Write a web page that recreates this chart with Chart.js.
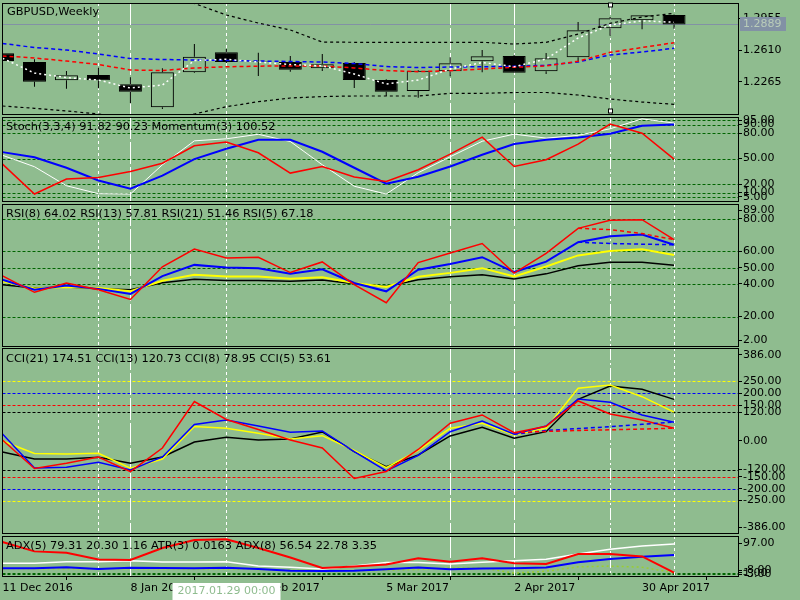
<!DOCTYPE html>
<html>
<head>
<meta charset="utf-8">
<title>GBPUSD Weekly</title>
<script src="https://cdn.jsdelivr.net/npm/chart.js@4.4.1/dist/chart.umd.min.js"></script>
<style>
  html, body { margin: 0; padding: 0; background: #8FBC8F; }
  #wrap { position: relative; width: 800px; height: 600px; overflow: hidden; background: #8FBC8F; }
  #wrap canvas { position: absolute; left: 0; top: 0; }
</style>
</head>
<body>
<div id="wrap">
  <canvas id="cMain" width="800" height="600"></canvas>
  <canvas id="cStoch" width="800" height="600"></canvas>
  <canvas id="cRsi" width="800" height="600"></canvas>
  <canvas id="cCci" width="800" height="600"></canvas>
  <canvas id="cAdx" width="800" height="600"></canvas>
</div>
<script>
// ================= DATA =================
const weeks = ['11 Dec 2016','18 Dec 2016','25 Dec 2016','1 Jan 2017','8 Jan 2017','15 Jan 2017','22 Jan 2017',
  '29 Jan 2017','5 Feb 2017','12 Feb 2017','19 Feb 2017','26 Feb 2017','5 Mar 2017','12 Mar 2017','19 Mar 2017',
  '26 Mar 2017','2 Apr 2017','9 Apr 2017','16 Apr 2017','23 Apr 2017','30 Apr 2017','7 May 2017'];
const dateTickEvery = 4;
const crosshairIndex = 7;
const crosshairLabel = '2017.01.29 00:00';
const symbolTitle = 'GBPUSD,Weekly';

const open  = [1.2574,1.2479,1.2280,1.2338,1.2236,1.1986,1.2367,1.2585,1.2490,1.2479,1.2411,1.2468,1.2283,1.2163,1.2378,1.2487,1.2545,1.2378,1.2530,1.2846,1.2934,1.2991];
const high  = [1.2605,1.2509,1.2381,1.2417,1.2313,1.2411,1.2675,1.2620,1.2581,1.2545,1.2566,1.2479,1.2291,1.2392,1.2530,1.2610,1.2556,1.2577,1.2915,1.2970,1.2991,1.2997];
const low   = [1.2462,1.2210,1.2188,1.2193,1.2029,1.1967,1.2360,1.2468,1.2327,1.2374,1.2381,1.2196,1.2109,1.2090,1.2324,1.2367,1.2360,1.2349,1.2483,1.2766,1.2835,1.2842];
const close = [1.2490,1.2265,1.2334,1.2280,1.2156,1.2367,1.2537,1.2479,1.2484,1.2395,1.2454,1.2283,1.2156,1.2385,1.2465,1.2541,1.2363,1.2520,1.2825,1.2955,1.2988,1.2889];

const maBlue  = [1.2681,1.2637,1.2610,1.2566,1.2517,1.2507,1.2501,1.2496,1.2490,1.2485,1.2479,1.2463,1.2430,1.2419,1.2425,1.2428,1.2432,1.2443,1.2480,1.2556,1.2588,1.2629];
const maRed   = [1.2545,1.2523,1.2490,1.2452,1.2392,1.2387,1.2414,1.2427,1.2434,1.2437,1.2437,1.2414,1.2387,1.2374,1.2385,1.2403,1.2422,1.2437,1.2487,1.2585,1.2637,1.2690];
const maWhite = [1.2520,1.2359,1.2310,1.2283,1.2196,1.2229,1.2496,1.2509,1.2479,1.2452,1.2437,1.2349,1.2240,1.2283,1.2403,1.2474,1.2428,1.2512,1.2741,1.2882,1.2928,1.2912];
const bandUpper = [1.3318,1.3351,1.3373,1.3318,1.3264,1.3187,1.3117,1.2991,1.2904,1.2828,1.2697,1.2694,1.2694,1.2694,1.2694,1.2694,1.2675,1.2694,1.2784,1.2901,1.2969,1.3010];
const bandLower = [1.2000,1.1975,1.1946,1.1913,1.1869,1.1847,1.1913,1.1992,1.2047,1.2087,1.2103,1.2109,1.2109,1.2109,1.2138,1.2138,1.2147,1.2147,1.2120,1.2076,1.2043,1.2018];
const priceTicks = [1.2955, 1.2610, 1.2265];

const stochMain   = [53.9,40.4,18.0,8.6,8.2,42.7,70.9,73.3,78.6,70.1,42.7,17.4,8.2,33.3,52.1,70.4,78.8,74.1,77.4,85.1,96.8,91.82];
const stochSignal = [57.6,51.5,39.2,24.2,14.5,29.8,49.4,61.5,72.1,72.1,58.0,39.2,20.4,28.6,40.7,54.5,67.1,72.1,74.8,79.2,88.6,90.23];
const momentumPlot = [43.5,8.2,25.9,27.8,34.8,44.5,65.1,69.4,56.8,32.9,40.7,28.2,23.1,36.8,55.3,75.3,40.7,48.6,67.1,90.6,79.8,49.4];
const momentumLast = 100.52;
const stochTicks = [95, 90, 80, 50, 20, 10, 5];

const rsi5  = [45.0,34.9,40.6,36.5,30.5,50.5,61.4,55.9,56.4,47.0,53.5,39.6,28.5,53.1,59.0,64.8,46.7,58.8,74.1,79.0,79.4,67.18];
const rsi8  = [42.6,36.5,39.0,37.0,33.9,44.8,51.7,50.1,49.7,46.2,49.0,40.6,35.5,48.7,52.3,56.4,47.3,53.7,65.6,69.3,70.3,64.02];
const rsi13 = [41.6,37.2,38.2,37.6,35.5,42.0,45.6,44.6,44.6,43.2,44.1,40.6,38.2,44.4,46.8,49.7,44.6,50.7,57.5,60.2,61.2,57.81];
const rsi21 = [39.6,37.6,38.2,37.0,36.5,40.8,42.9,42.2,42.2,41.6,42.4,40.2,38.5,42.6,44.4,45.6,43.0,46.2,51.1,53.3,53.3,51.46];
const rsi5Avg = [null,null,null,null,null,null,null,null,null,null,null,null,null,null,null,null,null,null,74.1,73.3,70.9,67.18];
const rsi8Avg = [null,null,null,null,null,null,null,null,null,null,null,null,null,null,null,null,null,null,65.6,64.8,64.4,64.02];
const rsiLevels = [80, 60, 50, 40, 20];
const rsiTicks = [89, 80, 60, 50, 40, 20, 2];

const cci5  = [4.2,-115.4,-93.5,-67.1,-128.8,-29.4,165.7,90.2,48.2,4.2,-29.4,-157.3,-127.9,-35.7,74.2,109.1,34.8,61.7,167.8,113.3,88.1,53.61];
const cci8  = [29.4,-113.3,-110.3,-89.3,-121.6,-67.1,69.2,88.1,62.9,36.5,41.9,-44.9,-125.8,-60.8,39.0,83.9,28.1,62.9,176.2,162.3,109.1,78.95];
const cci13 = [0,-52.4,-54.5,-51.6,-114.5,-75.5,60.8,53.3,32.3,8.4,22.2,-39.8,-112.0,-39.8,53.3,74.2,25.2,53.3,221.1,234.9,185.8,120.73];
const cci21 = [-46.1,-75.5,-75.5,-68.4,-93.5,-67.1,-4.2,15.5,4.2,8.4,37.8,-44.0,-107.8,-58.7,21.0,57.5,11.3,39.0,174.9,230.7,216.9,174.51];
const cci5Avg = [null,null,null,null,null,null,null,null,null,null,null,null,null,null,null,null,34.8,40,44,47,50,53.61];
const cci8Avg = [null,null,null,null,null,null,null,null,null,null,null,null,null,null,null,null,28.1,44,52,60,70,78.95];
const cciLevels = [250, 200, 150, 120, -120, -150, -200, -250];
const cciTicks = [386, 250, 200, 150, 120, 0, -120, -150, -200, -250, -386];

const adx5Main = [26.7,26.7,31.1,31.1,33.8,30.2,30.2,31.1,19.3,15.8,11.2,19.3,28.9,28.9,24.8,29.4,33.8,37.6,52.0,64.9,73.8,79.31];
const adxRed   = [84.7,59.1,55.6,37.1,35.7,68.4,90.2,92.1,68.4,42.5,13.9,18.0,23.4,40.3,31.1,40.3,26.7,24.8,52.0,52.0,45.2,1.16];
const adxBlue  = [13.1,13.1,15.8,11.2,14.7,13.9,13.1,14.7,11.2,6.5,5.7,6.5,10.4,15.3,10.4,12.5,13.1,15.3,29.4,38.4,44.7,49.3];
const atrPlot  = [12,12,12,12,12,12,11,11,10,8,6,6,8,10,14,14,0,5,17,19,16,1];
const adxLevels = [1, -3];
const adxTicks = [97, 1, -3, -8];
const adxTitle = 'ADX(5) 79.31 20.30 1.16 ATR(3) 0.0163 ADX(8) 56.54 22.78 3.35';

const vLineIdx = [3, 4, 7, 14, 16, 19, 21];

// ================= STYLE / LAYOUT =================
const FONT = 'DejaVu Sans';
Chart.defaults.font.family = FONT;
Chart.defaults.font.size = 11;
Chart.defaults.color = '#000';
const BG = '#8FBC8F';
const GREY = '#8291a5';
const TITLE_FONT = '11.35px "' + FONT + '"';
const X_MIN = 0, X_MAX = 23, PLOT_LEFT = 2.5, AXIS_W = 62, CANVAS_H = 600, X_AXIS_H = 24;
const V_DASH = [[3,3],[22,3],[3,3],[22,3],[22,3],[12,3,2,3],[3,3]];
const last = a => a[a.length - 1];
const pts = arr => arr.map((v, i) => ({ x: i, y: v }));

function line(data, color, width, dash, order) {
  return { type: 'line', data: pts(data), borderColor: color, borderWidth: width, borderDash: dash || [],
           pointRadius: 0, tension: 0, fill: false, spanGaps: false, order: order || 0 };
}

function makeDecor(p) {
  return {
    id: 'decor_' + p.id,
    beforeDatasetsDraw(chart) {
      const { ctx, chartArea: a, scales } = chart;
      const x = scales.x, y = scales.y;
      ctx.save();
      ctx.beginPath(); ctx.rect(a.left, a.top, a.right - a.left, a.bottom - a.top); ctx.clip();
      ctx.lineWidth = 1;
      (p.levels || []).forEach((v, i) => {
        const py = Math.round(y.getPixelForValue(v)) + 0.5;
        ctx.strokeStyle = p.levelColors[i % p.levelColors.length];
        ctx.setLineDash([3, 2]);
        ctx.beginPath(); ctx.moveTo(a.left, py); ctx.lineTo(a.right, py); ctx.stroke();
      });
      if (p.priceLine) {
        const py = Math.round(y.getPixelForValue(last(close))) + 0.5;
        ctx.strokeStyle = GREY; ctx.setLineDash([]);
        ctx.beginPath(); ctx.moveTo(a.left, py); ctx.lineTo(a.right, py); ctx.stroke();
      }
      vLineIdx.forEach((idx, k) => {
        const px = Math.floor(x.getPixelForValue(idx)) + 0.5;
        ctx.strokeStyle = '#ffffff'; ctx.setLineDash(V_DASH[k]);
        ctx.beginPath(); ctx.moveTo(px, a.top); ctx.lineTo(px, a.bottom); ctx.stroke();
      });
      ctx.restore();
    },
    afterDraw(chart) {
      const { ctx, chartArea: a } = chart;
      ctx.save();
      ctx.strokeStyle = '#000'; ctx.lineWidth = 1; ctx.setLineDash([]);
      const L = Math.floor(a.left) + 0.5, R = Math.round(a.right) + 0.5;
      ctx.strokeRect(L, a.top + 0.5, R - L, a.bottom - a.top);
      ctx.font = TITLE_FONT; ctx.fillStyle = '#000';
      ctx.textBaseline = 'middle'; ctx.textAlign = 'left';
      ctx.fillText(p.title, p.titleX, p.titleY);
      ctx.font = '11px "' + FONT + '"';
      if (p.extra) p.extra(chart);
      ctx.restore();
    }
  };
}

function buildPane(p) {
  const isBottom = !!p.xAxis;
  const h = p.bottom - p.top;
  const ppu = h / (p.max - p.min);
  const inset = 6 / ppu;
  const tickPos = p.ticks.map((v, i) => {
    if (p.edge && i === 0) return v - inset;
    if (p.edge && i === p.ticks.length - 1) return v + inset;
    return v;
  });
  return new Chart(document.getElementById(p.id), {
    type: 'bar',
    data: { datasets: p.datasets },
    options: {
      responsive: false, animation: false, devicePixelRatio: 1, events: [],
      layout: { padding: { left: PLOT_LEFT, right: 0, top: p.top,
                           bottom: CANVAS_H - p.bottom - (isBottom ? X_AXIS_H : 0) } },
      plugins: { legend: { display: false }, tooltip: { enabled: false }, title: { display: false } },
      scales: {
        x: {
          type: 'linear', min: X_MIN, max: X_MAX, offset: false, bounds: 'data', display: isBottom,
          afterFit(s) { s.height = isBottom ? X_AXIS_H : 0; s.paddingLeft = 0; s.paddingRight = 0; },
          afterBuildTicks(s) {
            s.ticks = weeks.map((w, i) => i).filter(i => i % dateTickEvery === 0).map(i => ({ value: i }));
          },
          ticks: { autoSkip: false, maxRotation: 0, minRotation: 0, align: 'start', padding: 2, color: '#000',
                   font: { size: 11 }, callback: (v) => weeks[v] },
          grid: { drawOnChartArea: false, drawTicks: true, tickLength: 4, color: '#000' },
          border: { display: false }
        },
        y: {
          position: 'right', min: p.min, max: p.max, bounds: 'data',
          afterFit(s) { s.width = AXIS_W; s.paddingTop = 0; s.paddingBottom = 0; },
          afterBuildTicks(s) { s.ticks = tickPos.map(v => ({ value: v })); },
          ticks: { autoSkip: false, padding: 1, color: '#000', font: { size: 11 },
                   callback: (v, i) => p.ticks[i].toFixed(p.dec) },
          grid: { drawOnChartArea: false, drawTicks: true, tickLength: 4, color: '#000' },
          border: { display: false }
        }
      }
    },
    plugins: [makeDecor(p)]
  });
}

// ---- candle datasets built from OHLC ----
const bodyData = open.map((o, i) => ({ x: i, y: [o, close[i]] }));
const wickData = [];
open.forEach((o, i) => {
  const top = Math.max(o, close[i]), bot = Math.min(o, close[i]);
  wickData.push({ x: i, y: [top, high[i]] });
  wickData.push({ x: i, y: [low[i], bot] });
});

const mainDatasets = [
  line(maWhite, '#ffffff', 1.5, [2, 3], 0),
  line(maRed, '#ff0000', 1.5, [4, 3], 1),
  line(maBlue, '#0000ff', 1.5, [4, 3], 2),
  { type: 'bar', data: bodyData, order: 3, grouped: false, barThickness: 23, inflateAmount: 0,
    borderSkipped: false, borderWidth: 1, borderColor: '#000',
    backgroundColor: (c) => (close[c.dataIndex] < open[c.dataIndex] ? '#000000' : 'rgba(0,0,0,0)') },
  { type: 'bar', data: wickData, order: 4, grouped: false, barThickness: 1, inflateAmount: 0,
    borderWidth: 0, backgroundColor: '#000000' },
  line(bandUpper, '#000000', 1.2, [3, 3], 5),
  line(bandLower, '#000000', 1.2, [3, 3], 6)
];

const panes = [
  { id: 'cMain', top: 3, bottom: 114, min: 1.1913, max: 1.3122, dec: 4, ticks: priceTicks, edge: false,
    levels: [], title: symbolTitle, titleX: 7, titleY: 12, priceLine: true, datasets: mainDatasets,
    extra(chart) {
      const { ctx, scales: { x, y }, chartArea: a } = chart;
      const yc = Math.round(y.getPixelForValue(last(close)));
      ctx.fillStyle = GREY; ctx.fillRect(740, yc - 7, 46, 14);
      ctx.fillStyle = '#b9ccb9'; ctx.textBaseline = 'middle'; ctx.textAlign = 'left';
      ctx.fillText(last(close).toFixed(4), 743, yc + 0.5);
      const px = Math.floor(x.getPixelForValue(vLineIdx[5])) + 0.5;
      ctx.fillStyle = '#fff'; ctx.strokeStyle = '#000';
      [a.top + 2, a.bottom - 3].forEach(cy => {
        ctx.fillRect(px - 2, cy - 2, 4, 4); ctx.strokeRect(px - 2, cy - 2, 4, 4);
      });
    } },
  { id: 'cStoch', top: 117, bottom: 201, min: 0, max: 99, dec: 2, ticks: stochTicks, edge: false,
    levels: stochTicks, levelColors: ['#006400'], titleX: 6, titleY: 127.5,
    title: 'Stoch(3,3,4) ' + last(stochMain).toFixed(2) + ' ' + last(stochSignal).toFixed(2) + ' Momentum(3) ' + momentumLast.toFixed(2),
    datasets: [
      line(stochMain, '#ffffff', 1, [], 2),
      line(stochSignal, '#0000ff', 2, [], 1),
      line(momentumPlot, '#ff0000', 1.5, [], 0)
    ] },
  { id: 'cRsi', top: 204, bottom: 346, min: 2, max: 89, dec: 2, ticks: rsiTicks, edge: true,
    levels: rsiLevels, levelColors: ['#006400'], titleX: 6, titleY: 214,
    title: 'RSI(8) ' + last(rsi8).toFixed(2) + ' RSI(13) ' + last(rsi13).toFixed(2) + ' RSI(21) ' + last(rsi21).toFixed(2) + ' RSI(5) ' + last(rsi5).toFixed(2),
    datasets: [
      line(rsi5Avg, '#ff0000', 1.5, [4, 3], 0),
      line(rsi8Avg, '#0000ff', 1.5, [4, 3], 1),
      line(rsi5, '#ff0000', 1.5, [], 2),
      line(rsi8, '#0000ff', 2, [], 3),
      line(rsi13, '#ffff00', 2, [], 4),
      line(rsi21, '#000000', 1.5, [], 5)
    ] },
  { id: 'cCci', top: 348, bottom: 533, min: -386, max: 390, dec: 2, ticks: cciTicks, edge: true,
    levels: cciLevels, levelColors: ['#ffff00', '#0000ff', '#ff0000', '#000000', '#000000', '#ff0000', '#0000ff', '#ffff00'],
    titleX: 6, titleY: 359.5,
    title: 'CCI(21) ' + last(cci21).toFixed(2) + ' CCI(13) ' + last(cci13).toFixed(2) + ' CCI(8) ' + last(cci8).toFixed(2) + ' CCI(5) ' + last(cci5).toFixed(2),
    datasets: [
      line(cci5Avg, '#ff0000', 1.5, [4, 3], 0),
      line(cci8Avg, '#0000ff', 1.5, [4, 3], 1),
      line(cci5, '#ff0000', 1.5, [], 2),
      line(cci8, '#0000ff', 1.5, [], 3),
      line(cci13, '#ffff00', 1.5, [], 4),
      line(cci21, '#000000', 1.5, [], 5)
    ] },
  { id: 'cAdx', top: 536, bottom: 576, min: -8, max: 101, dec: 2, ticks: adxTicks, edge: true,
    levels: adxLevels, levelColors: ['#006400'], titleX: 6, titleY: 546, title: adxTitle, xAxis: true,
    datasets: [
      line(adxRed, '#ff0000', 2, [], 0),
      line(adx5Main, '#ffffff', 1.5, [], 1),
      line(adxBlue, '#0000ff', 2, [], 2),
      line(atrPlot, '#9acd32', 1.5, [2, 3], 3)
    ],
    extra(chart) {
      const { ctx, scales: { x } } = chart;
      const cx = Math.floor(x.getPixelForValue(crosshairIndex)) + 0.5;
      ctx.fillStyle = '#ffffff'; ctx.fillRect(cx - 54, 583, 108, 17);
      ctx.fillStyle = BG; ctx.textAlign = 'center'; ctx.textBaseline = 'middle';
      ctx.fillText(crosshairLabel, cx, 591.5);
    } }
];

panes.forEach(buildPane);
</script>
</body>
</html>
